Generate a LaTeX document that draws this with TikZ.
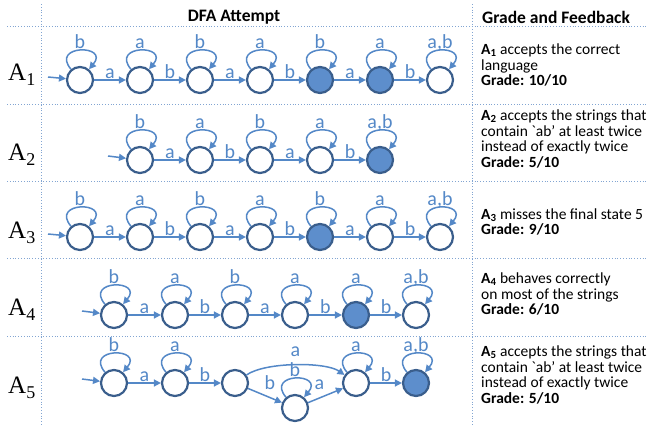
\documentclass[tikz,border=0pt]{standalone}
\usepackage{fontspec}
\setmainfont{Carlito}
\newfontfamily\timesfont{Liberation Serif}
\usetikzlibrary{arrows.meta}
\definecolor{ring}{RGB}{58,94,140}
\definecolor{accfill}{RGB}{93,142,204}
\definecolor{trblue}{RGB}{84,136,199}
\definecolor{sepblue}{RGB}{130,165,210}
\newcommand{\Aname}[1]{{\timesfont\fontsize{25}{25}\selectfont A\raisebox{-5pt}{\fontsize{18}{18}\selectfont #1}}}
\tikzset{
  st/.style={circle, draw=ring, line width=2.2pt, minimum size=26pt, inner sep=0pt},
  acc/.style={st, fill=accfill},
  tr/.style={draw=trblue, line width=1.5pt, -{Triangle[length=7pt,width=7pt]}},
  self/.style={out=130, in=50, looseness=4.6},
  lab/.style={text=trblue, font=\fontsize{20}{20}\selectfont, inner sep=0pt, anchor=base, yshift=2pt},
  sep/.style={draw=sepblue, line width=0.8pt, dotted},
  fb/.style={anchor=west, align=left, inner sep=0pt, font=\fontsize{15.5}{15.8}\selectfont}
}

\begin{document}
\begin{tikzpicture}[x=1pt,y=1pt]
  \useasboundingbox (0,0) rectangle (648,-426);
  \draw[sep] (7,-26) -- (648,-26);
  \draw[sep] (7,-104) -- (648,-104);
  \draw[sep] (7,-181) -- (648,-181);
  \draw[sep] (7,-258) -- (648,-258);
  \draw[sep] (7,-336) -- (648,-336);
  \draw[sep] (41,-4) -- (41,-426);
  \draw[sep] (472,-4) -- (472,-426);
  \node[font=\bfseries\fontsize{17.5}{17.5}\selectfont] (h1) at (234,-17) {DFA Attempt};
  \node[font=\bfseries\fontsize{17.5}{17.5}\selectfont, anchor=west, inner sep=0pt] (h2) at (482,-17) {Grade and Feedback};
  \node[anchor=base west, inner sep=0pt] (A1) at (8,-80) {\Aname{1}};
  \node[anchor=base west, inner sep=0pt] (A2) at (8,-160) {\Aname{2}};
  \node[anchor=base west, inner sep=0pt] (A3) at (8,-238) {\Aname{3}};
  \node[anchor=base west, inner sep=0pt] (A4) at (8,-315) {\Aname{4}};
  \node[anchor=base west, inner sep=0pt] (A5) at (8,-393) {\Aname{5}};

  \node[st] (p0) at (80,-80) {};
  \node[st] (p1) at (140,-80) {};
  \node[st] (p2) at (200,-80) {};
  \node[st] (p3) at (260,-80) {};
  \node[acc] (p4) at (320,-80) {};
  \node[acc] (p5) at (380,-80) {};
  \node[st] (p6) at (440,-80) {};
  \coordinate (pi) at (48,-77);
  \draw[tr] (pi) -- (p0);
  \draw[tr] (p0) -- node[lab]{a} (p1);
  \draw[tr] (p1) -- node[lab]{b} (p2);
  \draw[tr] (p2) -- node[lab]{a} (p3);
  \draw[tr] (p3) -- node[lab]{b} (p4);
  \draw[tr] (p4) -- node[lab]{a} (p5);
  \draw[tr] (p5) -- node[lab]{b} (p6);
  \draw[tr] (p0) to[self] node[lab]{b} (p0);
  \draw[tr] (p1) to[self] node[lab]{a} (p1);
  \draw[tr] (p2) to[self] node[lab]{b} (p2);
  \draw[tr] (p3) to[self] node[lab]{a} (p3);
  \draw[tr] (p4) to[self] node[lab]{b} (p4);
  \draw[tr] (p5) to[self] node[lab]{a} (p5);
  \draw[tr] (p6) to[self] node[lab]{a,b} (p6);

  \node[st] (q0) at (140,-160) {};
  \node[st] (q1) at (200,-160) {};
  \node[st] (q2) at (260,-160) {};
  \node[st] (q3) at (320,-160) {};
  \node[acc] (q4) at (380,-160) {};
  \coordinate (qi) at (108,-156);
  \draw[tr] (qi) -- (q0);
  \draw[tr] (q0) -- node[lab]{a} (q1);
  \draw[tr] (q1) -- node[lab]{b} (q2);
  \draw[tr] (q2) -- node[lab]{a} (q3);
  \draw[tr] (q3) -- node[lab]{b} (q4);
  \draw[tr] (q0) to[self] node[lab]{b} (q0);
  \draw[tr] (q1) to[self] node[lab]{a} (q1);
  \draw[tr] (q2) to[self] node[lab]{b} (q2);
  \draw[tr] (q3) to[self] node[lab]{a} (q3);
  \draw[tr] (q4) to[self] node[lab]{a,b} (q4);

  \node[st] (r0) at (80,-237) {};
  \node[st] (r1) at (140,-237) {};
  \node[st] (r2) at (200,-237) {};
  \node[st] (r3) at (260,-237) {};
  \node[acc] (r4) at (320,-237) {};
  \node[st] (r5) at (380,-237) {};
  \node[st] (r6) at (440,-237) {};
  \coordinate (ri) at (48,-234);
  \draw[tr] (ri) -- (r0);
  \draw[tr] (r0) -- node[lab]{a} (r1);
  \draw[tr] (r1) -- node[lab]{b} (r2);
  \draw[tr] (r2) -- node[lab]{a} (r3);
  \draw[tr] (r3) -- node[lab]{b} (r4);
  \draw[tr] (r4) -- node[lab]{a} (r5);
  \draw[tr] (r5) -- node[lab]{b} (r6);
  \draw[tr] (r0) to[self] node[lab]{b} (r0);
  \draw[tr] (r1) to[self] node[lab]{a} (r1);
  \draw[tr] (r2) to[self] node[lab]{b} (r2);
  \draw[tr] (r3) to[self] node[lab]{a} (r3);
  \draw[tr] (r4) to[self] node[lab]{b} (r4);
  \draw[tr] (r5) to[self] node[lab]{a} (r5);
  \draw[tr] (r6) to[self] node[lab]{a,b} (r6);

  \node[st] (s0) at (114,-315) {};
  \node[st] (s1) at (175,-315) {};
  \node[st] (s2) at (235,-315) {};
  \node[st] (s3) at (295,-315) {};
  \node[acc] (s4) at (356,-315) {};
  \node[st] (s5) at (416,-315) {};
  \coordinate (si) at (82,-311);
  \draw[tr] (si) -- (s0);
  \draw[tr] (s0) -- node[lab]{a} (s1);
  \draw[tr] (s1) -- node[lab]{b} (s2);
  \draw[tr] (s2) -- node[lab]{a} (s3);
  \draw[tr] (s3) -- node[lab]{b} (s4);
  \draw[tr] (s4) -- node[lab]{b} (s5);
  \draw[tr] (s0) to[self] node[lab]{b} (s0);
  \draw[tr] (s1) to[self] node[lab]{a} (s1);
  \draw[tr] (s2) to[self] node[lab]{b} (s2);
  \draw[tr] (s3) to[self] node[lab]{a} (s3);
  \draw[tr] (s4) to[self] node[lab]{a} (s4);
  \draw[tr] (s5) to[self] node[lab]{a,b} (s5);

  \node[st] (t0) at (114,-383) {};
  \node[st] (t1) at (175,-383) {};
  \node[st] (t2) at (235,-383) {};
  \node[st] (t3) at (295,-408) {};
  \node[st] (t4) at (356,-383) {};
  \node[acc] (t5) at (416,-383) {};
  \coordinate (ti) at (82,-379);
  \draw[tr] (ti) -- (t0);
  \draw[tr] (t0) -- node[lab]{a} (t1);
  \draw[tr] (t1) -- node[lab]{b} (t2);
  \draw[tr] (t2) to[out=35,in=145,looseness=0.6] node[lab, yshift=7pt]{a} (t4);
  \draw[tr] (t2) -- node[lab, xshift=5pt, yshift=4pt]{b} (t3);
  \draw[tr] (t3) -- node[lab, xshift=-6pt, yshift=4pt]{a} (t4);
  \draw[tr] (t4) -- node[lab]{b} (t5);
  \draw[tr] (t0) to[self] node[lab]{b} (t0);
  \draw[tr] (t1) to[self] node[lab]{a} (t1);
  \draw[tr] (t3) to[self] node[lab]{b} (t3);
  \draw[tr] (t4) to[self] node[lab]{a} (t4);
  \draw[tr] (t5) to[self] node[lab]{a,b} (t5);

  \node[fb] (f1) at (481,-65) {\textbf{A\textsubscript{1}} accepts the correct\\language\\\textbf{Grade: 10/10}};
  \node[fb] (f2) at (481,-139) {\textbf{A\textsubscript{2}} accepts the strings that\\contain \textasciigrave ab’ at least twice\\instead of exactly twice\\\textbf{Grade: 5/10}};
  \node[fb] (f3) at (481,-222) {\textbf{A\textsubscript{3}} misses the final state 5\\\textbf{Grade: 9/10}};
  \node[fb] (f4) at (481,-294) {\textbf{A\textsubscript{4}} behaves correctly\\on most of the strings\\\textbf{Grade: 6/10}};
  \node[fb] (f5) at (481,-375) {\textbf{A\textsubscript{5}} accepts the strings that\\contain \textasciigrave ab’ at least twice\\instead of exactly twice\\\textbf{Grade: 5/10}};
\end{tikzpicture}
\end{document}
